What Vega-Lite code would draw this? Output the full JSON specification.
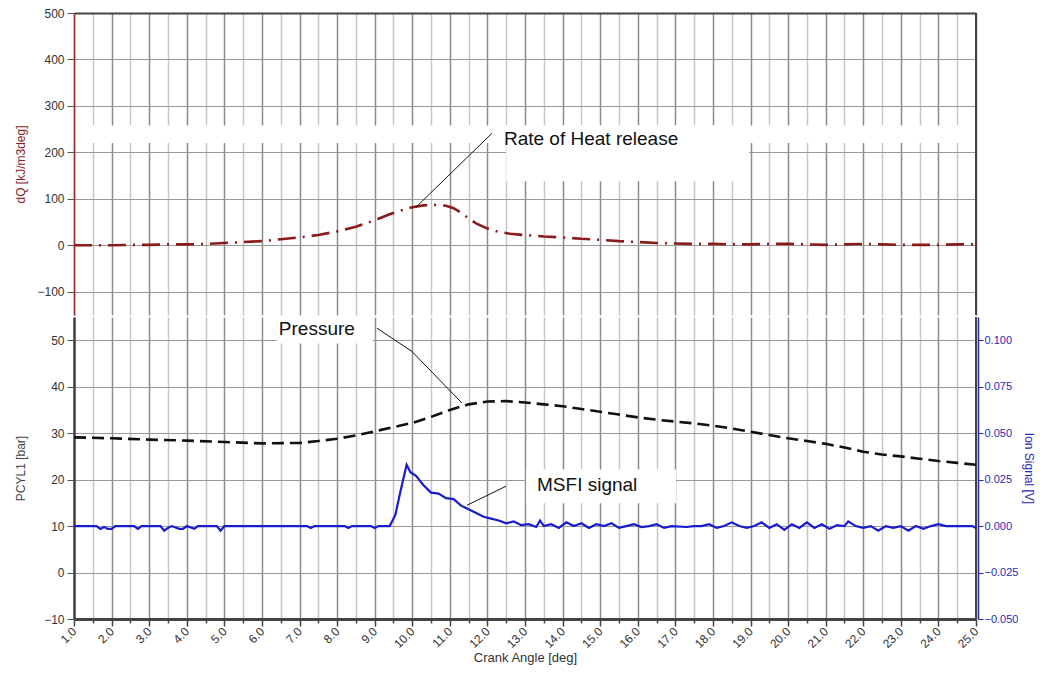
{
  "$schema": "https://vega.github.io/schema/vega-lite/v6.json",
  "background": "white",
  "padding": {"left": 14, "top": 7, "right": 5, "bottom": 5},
  "config": {
    "view": {"stroke": null},
    "font": "Liberation Sans",
    "axis": {"labelFont": "Liberation Sans", "titleFont": "Liberation Sans", "labelFontSize": 12, "titleFontSize": 12, "titleFontWeight": "normal", "labelColor": "#333333", "titleColor": "#333333", "tickColor": "#444444", "domainColor": "#444444"},
    "axisX": {"labelOverlap": false}
  },
  "datasets": {
    "dq": [
      {"x": 1.0, "y": 0}, {"x": 1.5, "y": 0}, {"x": 2.0, "y": 0}, {"x": 2.5, "y": 1}, {"x": 3.0, "y": 1}, {"x": 3.5, "y": 2}, {"x": 4.0, "y": 2}, {"x": 4.5, "y": 3}, {"x": 5.0, "y": 5}, {"x": 5.5, "y": 7}, {"x": 6.0, "y": 9}, {"x": 6.5, "y": 13}, {"x": 7.0, "y": 17}, {"x": 7.5, "y": 22}, {"x": 8.0, "y": 30}, {"x": 8.5, "y": 40}, {"x": 8.8, "y": 48}, {"x": 9.1, "y": 57}, {"x": 9.4, "y": 67}, {"x": 9.7, "y": 75}, {"x": 10.0, "y": 82}, {"x": 10.3, "y": 86}, {"x": 10.6, "y": 87}, {"x": 10.9, "y": 85}, {"x": 11.1, "y": 80}, {"x": 11.3, "y": 70}, {"x": 11.5, "y": 58}, {"x": 11.7, "y": 47}, {"x": 12.0, "y": 36}, {"x": 12.3, "y": 29}, {"x": 12.6, "y": 25}, {"x": 13.0, "y": 22}, {"x": 13.5, "y": 19}, {"x": 14.0, "y": 17}, {"x": 14.5, "y": 14}, {"x": 15.0, "y": 12}, {"x": 15.5, "y": 9}, {"x": 16.0, "y": 7}, {"x": 16.5, "y": 5}, {"x": 17.0, "y": 4}, {"x": 17.5, "y": 3}, {"x": 18.0, "y": 3}, {"x": 18.5, "y": 2}, {"x": 19.0, "y": 2}, {"x": 19.5, "y": 3}, {"x": 20.0, "y": 3}, {"x": 20.5, "y": 2}, {"x": 21.0, "y": 1}, {"x": 21.5, "y": 2}, {"x": 22.0, "y": 3}, {"x": 22.5, "y": 2}, {"x": 23.0, "y": 1}, {"x": 23.5, "y": 1}, {"x": 24.0, "y": 1}, {"x": 24.5, "y": 2}, {"x": 25.0, "y": 2}
    ],
    "pcyl": [
      {"x": 1.0, "y": 29.1}, {"x": 2.0, "y": 28.9}, {"x": 3.0, "y": 28.6}, {"x": 4.0, "y": 28.4}, {"x": 5.0, "y": 28.1}, {"x": 6.0, "y": 27.8}, {"x": 7.0, "y": 27.9}, {"x": 7.5, "y": 28.3}, {"x": 8.0, "y": 28.8}, {"x": 8.5, "y": 29.5}, {"x": 9.0, "y": 30.4}, {"x": 9.5, "y": 31.3}, {"x": 10.0, "y": 32.2}, {"x": 10.5, "y": 33.5}, {"x": 11.0, "y": 35.0}, {"x": 11.5, "y": 36.2}, {"x": 12.0, "y": 36.8}, {"x": 12.5, "y": 36.9}, {"x": 13.0, "y": 36.6}, {"x": 13.5, "y": 36.2}, {"x": 14.0, "y": 35.8}, {"x": 14.5, "y": 35.2}, {"x": 15.0, "y": 34.6}, {"x": 15.5, "y": 34.0}, {"x": 16.0, "y": 33.4}, {"x": 16.5, "y": 32.9}, {"x": 17.0, "y": 32.5}, {"x": 17.5, "y": 32.1}, {"x": 18.0, "y": 31.6}, {"x": 18.5, "y": 31.0}, {"x": 19.0, "y": 30.3}, {"x": 19.5, "y": 29.6}, {"x": 20.0, "y": 28.9}, {"x": 20.5, "y": 28.3}, {"x": 21.0, "y": 27.7}, {"x": 21.5, "y": 26.9}, {"x": 22.0, "y": 26.0}, {"x": 22.5, "y": 25.4}, {"x": 23.0, "y": 25.0}, {"x": 23.5, "y": 24.5}, {"x": 24.0, "y": 24.0}, {"x": 24.5, "y": 23.6}, {"x": 25.0, "y": 23.2}
    ],
    "ion": [
      {"x": 1.0, "v": 0}, {"x": 1.6, "v": 0}, {"x": 1.7, "v": -0.0015}, {"x": 1.8, "v": -0.0005}, {"x": 1.9, "v": -0.0015}, {"x": 2.0, "v": -0.0015}, {"x": 2.1, "v": 0}, {"x": 2.6, "v": 0}, {"x": 2.7, "v": -0.0015}, {"x": 2.8, "v": 0}, {"x": 3.3, "v": 0}, {"x": 3.4, "v": -0.0025}, {"x": 3.5, "v": -0.001}, {"x": 3.6, "v": 0}, {"x": 3.8, "v": -0.0015}, {"x": 3.9, "v": -0.0015}, {"x": 4.0, "v": 0}, {"x": 4.2, "v": -0.0015}, {"x": 4.3, "v": 0}, {"x": 4.8, "v": 0}, {"x": 4.9, "v": -0.0025}, {"x": 5.0, "v": 0}, {"x": 7.2, "v": 0}, {"x": 7.3, "v": -0.001}, {"x": 7.4, "v": 0}, {"x": 8.2, "v": 0}, {"x": 8.3, "v": -0.001}, {"x": 8.4, "v": 0}, {"x": 8.9, "v": 0}, {"x": 9.0, "v": -0.001}, {"x": 9.1, "v": 0}, {"x": 9.4, "v": 0}, {"x": 9.55, "v": 0.006}, {"x": 9.7, "v": 0.02}, {"x": 9.85, "v": 0.033}, {"x": 9.95, "v": 0.029}, {"x": 10.1, "v": 0.027}, {"x": 10.3, "v": 0.022}, {"x": 10.5, "v": 0.018}, {"x": 10.7, "v": 0.0175}, {"x": 10.9, "v": 0.015}, {"x": 11.1, "v": 0.0145}, {"x": 11.3, "v": 0.011}, {"x": 11.5, "v": 0.009}, {"x": 11.7, "v": 0.007}, {"x": 11.9, "v": 0.005}, {"x": 12.1, "v": 0.004}, {"x": 12.3, "v": 0.003}, {"x": 12.5, "v": 0.0015}, {"x": 12.7, "v": 0.0025}, {"x": 12.9, "v": 0.0005}, {"x": 13.1, "v": 0.001}, {"x": 13.3, "v": -0.0005}, {"x": 13.4, "v": 0.003}, {"x": 13.5, "v": 0}, {"x": 13.7, "v": 0.001}, {"x": 13.9, "v": -0.001}, {"x": 14.1, "v": 0.002}, {"x": 14.3, "v": 0}, {"x": 14.5, "v": 0.0015}, {"x": 14.7, "v": -0.001}, {"x": 14.9, "v": 0.001}, {"x": 15.1, "v": 0}, {"x": 15.3, "v": 0.0015}, {"x": 15.5, "v": -0.001}, {"x": 15.7, "v": 0}, {"x": 15.9, "v": 0.001}, {"x": 16.1, "v": -0.0005}, {"x": 16.3, "v": 0}, {"x": 16.5, "v": 0.001}, {"x": 16.7, "v": -0.001}, {"x": 16.9, "v": 0}, {"x": 17.3, "v": -0.0005}, {"x": 17.5, "v": 0}, {"x": 17.7, "v": 0}, {"x": 17.9, "v": 0.001}, {"x": 18.1, "v": -0.001}, {"x": 18.3, "v": 0}, {"x": 18.5, "v": 0.002}, {"x": 18.7, "v": 0}, {"x": 18.9, "v": -0.001}, {"x": 19.1, "v": 0}, {"x": 19.3, "v": 0.002}, {"x": 19.5, "v": -0.001}, {"x": 19.7, "v": 0.001}, {"x": 19.9, "v": -0.002}, {"x": 20.1, "v": 0.001}, {"x": 20.3, "v": -0.001}, {"x": 20.5, "v": 0.002}, {"x": 20.7, "v": -0.001}, {"x": 20.9, "v": 0.001}, {"x": 21.1, "v": -0.0015}, {"x": 21.3, "v": 0.0005}, {"x": 21.5, "v": 0}, {"x": 21.6, "v": 0.0025}, {"x": 21.8, "v": 0}, {"x": 22.0, "v": -0.001}, {"x": 22.2, "v": 0}, {"x": 22.4, "v": -0.0025}, {"x": 22.6, "v": 0}, {"x": 22.8, "v": -0.001}, {"x": 23.0, "v": 0}, {"x": 23.2, "v": -0.0025}, {"x": 23.4, "v": 0}, {"x": 23.6, "v": -0.0015}, {"x": 23.8, "v": 0}, {"x": 24.0, "v": 0.001}, {"x": 24.2, "v": 0}, {"x": 24.9, "v": 0}, {"x": 25.0, "v": -0.001}
    ]
  },
  "vconcat": [
    {
      "width": 902,
      "height": 302,
      "encoding": {
        "x": {"field": "x", "type": "quantitative", "scale": {"domain": [1, 25], "nice": false, "zero": false},
          "axis": {"orient": "top", "title": null, "labels": false, "ticks": false, "domain": true, "domainWidth": 2, "domainColor": "#444444",
            "values": [1,1.5,2,2.5,3,3.5,4,4.5,5,5.5,6,6.5,7,7.5,8,8.5,9,9.5,10,10.5,11,11.5,12,12.5,13,13.5,14,14.5,15,15.5,16,16.5,17,17.5,18,18.5,19,19.5,20,20.5,21,21.5,22,22.5,23,23.5,24,24.5,25],
            "grid": true, "gridWidth": 1.5, "gridColor": {"condition": {"test": "datum.value % 1 === 0", "value": "#8c8c8c"}, "value": "#c6c6c6"}}},
        "y": {"field": "y", "type": "quantitative", "scale": {"domain": [-150, 500], "nice": false, "zero": false},
          "axis": {"title": "dQ [kJ/m3deg]", "titleColor": "#8b2323", "titleX": -47, "values": [-100, 0, 100, 200, 300, 400, 500], "domainColor": "#9b3030", "domainWidth": 1.5, "tickSize": 7, "tickColor": "#555555", "labelPadding": 3, "grid": true, "gridColor": "#999999", "gridWidth": 1.2}}
      },
      "layer": [
        {
          "data": {"values": [{"x": 1.25, "x2": 24.85, "y": 220, "y2": 258}, {"x": 12.5, "x2": 18.96, "y": 138, "y2": 258}]},
          "mark": {"type": "rect", "color": "white"},
          "encoding": {"x2": {"field": "x2"}, "y2": {"field": "y2"}}
        },
        {
          "data": {"values": [{"x": 25, "y": -150, "y2": 500}]},
          "mark": {"type": "rule", "color": "#444444", "strokeWidth": 2},
          "encoding": {"y2": {"field": "y2"}}
        },
        {
          "data": {"name": "dq"},
          "mark": {"type": "line", "color": "#8b1a1a", "strokeWidth": 2.6, "strokeDash": [18, 7, 2, 7]}
        },
        {
          "data": {"values": [{"x": 12.12, "y": 241}, {"x": 10.1, "y": 82}]},
          "mark": {"type": "line", "color": "#111111", "strokeWidth": 1}
        },
        {
          "data": {"values": [{"x": 12.44, "y": 228, "t": "Rate of Heat release"}]},
          "mark": {"type": "text", "align": "left", "baseline": "middle", "font": "Liberation Sans", "fontSize": 19, "color": "#111111"},
          "encoding": {"text": {"field": "t"}}
        }
      ]
    },
    {
      "width": 902,
      "height": 302,
      "encoding": {
        "x": {"field": "x", "type": "quantitative", "scale": {"domain": [1, 25], "nice": false, "zero": false},
          "axis": {"title": "Crank Angle [deg]", "titleFontSize": 13, "titlePadding": 2, "domainWidth": 3, "domainColor": "#444444",
            "values": [1,1.5,2,2.5,3,3.5,4,4.5,5,5.5,6,6.5,7,7.5,8,8.5,9,9.5,10,10.5,11,11.5,12,12.5,13,13.5,14,14.5,15,15.5,16,16.5,17,17.5,18,18.5,19,19.5,20,20.5,21,21.5,22,22.5,23,23.5,24,24.5,25],
            "labelExpr": "datum.value % 1 === 0 ? format(datum.value, '.1f') : ''",
            "labelAngle": -45, "labelAlign": "right", "labelBaseline": "middle", "labelPadding": 3, "labelBound": false, "labelOverlap": false, "labelFlush": false,
            "tickSize": {"condition": {"test": "datum.value % 1 === 0", "value": 7}, "value": 4}, "tickWidth": 1.5,
            "grid": true, "gridWidth": 1.5, "gridColor": {"condition": {"test": "datum.value % 1 === 0", "value": "#8c8c8c"}, "value": "#c6c6c6"}}}
      },
      "layer": [
        {
          "encoding": {
            "y": {"field": "y", "type": "quantitative", "scale": {"domain": [-10, 55], "nice": false, "zero": false},
              "axis": {"title": "PCYL1 [bar]", "titleColor": "#444444", "titleX": -47, "values": [-10, 0, 10, 20, 30, 40, 50], "domainColor": "#444444", "domainWidth": 2.5, "tickSize": 7, "tickColor": "#555555", "labelPadding": 3, "grid": true, "gridColor": "#999999", "gridWidth": 1.2}}
          },
          "layer": [
            {
              "data": {"values": [{"x": 6.4, "x2": 8.95, "y": 49.3, "y2": 55}, {"x": 13.03, "x2": 17.02, "y": 14.9, "y2": 22.2}]},
              "mark": {"type": "rect", "color": "white"},
              "encoding": {"x2": {"field": "x2"}, "y2": {"field": "y2"}}
            },
            {
              "data": {"values": [{"x": 25, "y": -10, "y2": 55}]},
              "mark": {"type": "rule", "color": "#444444", "strokeWidth": 2},
              "encoding": {"y2": {"field": "y2"}}
            },
            {
              "data": {"name": "pcyl"},
              "mark": {"type": "line", "color": "#111111", "strokeWidth": 2.6, "strokeDash": [12, 6]}
            },
            {
              "data": {"values": [{"g": "p", "o": 1, "x": 9.06, "y": 52.6}, {"g": "p", "o": 2, "x": 9.99, "y": 47.6}, {"g": "p", "o": 3, "x": 11.32, "y": 36.5}, {"g": "m", "o": 1, "x": 12.5, "y": 18.6}, {"g": "m", "o": 2, "x": 11.46, "y": 14.5}]},
              "mark": {"type": "line", "color": "#111111", "strokeWidth": 1},
              "encoding": {"detail": {"field": "g"}, "order": {"field": "o"}}
            },
            {
              "data": {"values": [{"x": 6.45, "y": 52.4, "t": "Pressure"}, {"x": 13.32, "y": 18.8, "t": "MSFI signal"}]},
              "mark": {"type": "text", "align": "left", "baseline": "middle", "font": "Liberation Sans", "fontSize": 19, "color": "#111111"},
              "encoding": {"text": {"field": "t"}}
            }
          ]
        },
        {
          "data": {"name": "ion"},
          "mark": {"type": "line", "color": "#1a1ad0", "strokeWidth": 2.2},
          "encoding": {
            "y": {"field": "v", "type": "quantitative", "scale": {"domain": [-0.05, 0.1125], "nice": false, "zero": false},
              "axis": {"orient": "right", "title": "Ion Signal [V]", "titleAngle": 90, "titleColor": "#2a2ab8", "titlePadding": 4, "offset": 2, "values": [-0.05, -0.025, 0, 0.025, 0.05, 0.075, 0.1], "format": ".3f", "labelFontSize": 11, "labelColor": "#2a2ab8", "tickColor": "#2a2ab8", "domainColor": "#2a2ab8", "domainWidth": 1.5, "tickSize": 5, "labelPadding": 1, "grid": false}}
          }
        }
      ],
      "resolve": {"scale": {"y": "independent"}}
    }
  ],
  "spacing": 0
}
